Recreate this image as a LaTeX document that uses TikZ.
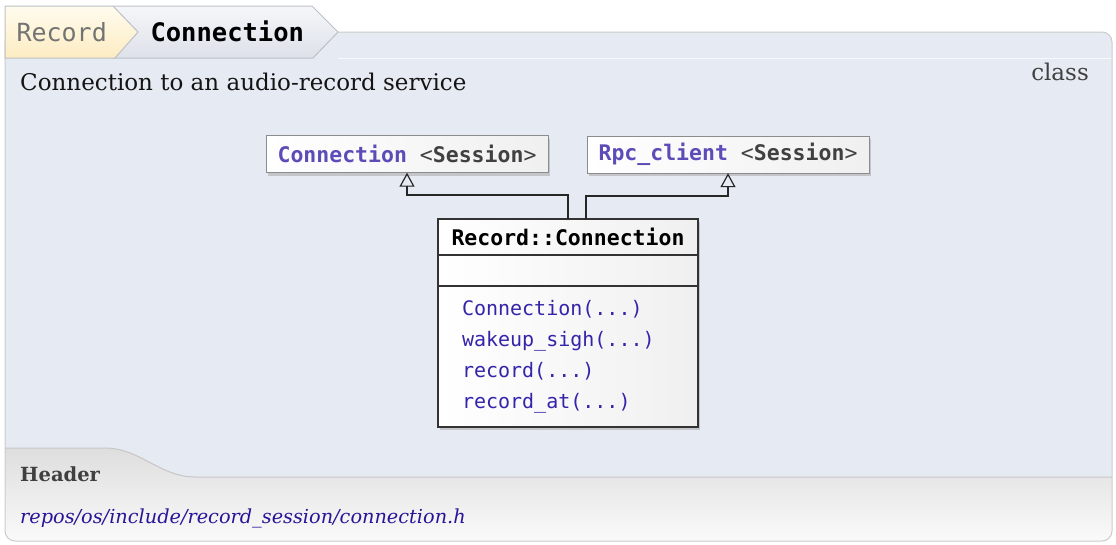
\documentclass[tikz,border=0pt]{standalone}
\usepackage{fontspec}
\setmainfont{DejaVu Serif}
\setmonofont{DejaVu Sans Mono}
\usetikzlibrary{arrows.meta,positioning,shadows}
\definecolor{panelbg}{RGB}{230,234,242}
\definecolor{tabline}{RGB}{190,192,198}
\definecolor{namepurple}{RGB}{92,76,184}
\definecolor{sessgray}{RGB}{64,64,64}
\definecolor{methblue}{RGB}{52,36,170}
\definecolor{pathblue}{RGB}{40,20,150}
\begin{document}
\begin{tikzpicture}[x=1pt, y=-1pt,
    base/.style={draw=black!45, left color=white, right color=black!6,
                 minimum width=282pt, minimum height=37pt, inner sep=0pt,
                 drop shadow={shadow xshift=2pt, shadow yshift=-3pt, fill=black!40, opacity=.45},
                 font=\fontsize{21.5}{26}\selectfont\ttfamily},
    clsbox/.style={draw=black!80, left color=white, right color=black!6,
                   minimum width=260pt, inner sep=0pt, outer sep=0pt, line width=1.1pt,
                   drop shadow={shadow xshift=2pt, shadow yshift=-3pt, fill=black!40, opacity=.45}},
    inh/.style={draw=black!85, line width=1.2pt,
                -{Triangle[open, width=15pt, length=14pt, line width=1.2pt]}}]
  % --- Cerceve ve sekmeler ---
  \useasboundingbox (0,0) rectangle (1116,544);
  \fill[panelbg, rounded corners=10pt] (5,32) rectangle (1112,541);
  \begin{scope}
    \clip[rounded corners=10pt] (5,32) rectangle (1112,541);
    \path[top color=black!13, bottom color=black!2]
      (5,448) -- (105,448) .. controls (140,448) and (160,477) .. (195,477)
      -- (1112,477) -- (1112,541) -- (5,541) -- cycle;
    \draw[black!22, line width=1pt] (5,448) -- (105,448)
      .. controls (140,448) and (160,477) .. (195,477) -- (1112,477);
  \end{scope}
  \draw[black!20, line width=1pt, rounded corners=10pt] (5,32) rectangle (1112,541);
  \draw[white!70!panelbg, line width=1pt] (338,58) -- (1111,58);
  \draw[tabline, line width=1pt, top color=white!60!panelbg, bottom color=black!4!panelbg]
    (113,6) -- (312,6) -- (338,32) -- (313,58) -- (113,58) -- cycle;
  \draw[tabline, line width=1pt, top color={rgb,255:red,255;green,251;blue,238},
        bottom color={rgb,255:red,252;green,236;blue,194}]
    (5,6) -- (113,6) -- (138,32) -- (115,58) -- (5,58) -- cycle;
  \node[anchor=west, black!55, font=\fontsize{25}{30}\selectfont\ttfamily] (tabrec) at (13,32) {Record};
  \node[anchor=west, font=\fontsize{25.5}{30}\selectfont\ttfamily\bfseries] (tabcon) at (147,31) {Connection};

  % --- Aciklama ---
  \node[anchor=base west, inner sep=0pt, black!92, font=\fontsize{23}{28}\selectfont] (desc) at (20,90)
    {Connection to an audio-record service};
  \node[anchor=base east, inner sep=0pt, black!75, font=\fontsize{23}{28}\selectfont] (kind) at (1089,80) {class};

  % --- Taban siniflar ---
  \node[base] (conn) at (407,154)
    {\textcolor{namepurple}{\bfseries Connection} \textcolor{sessgray}{<\textbf{Session}>}};
  \node[base] (rpc) at (728,154.5)
    {\textcolor{namepurple}{\bfseries Rpc\_client} \textcolor{sessgray}{<\textbf{Session}>}};

  % --- Record::Connection ---
  \node[clsbox, minimum height=36pt, font=\fontsize{21.5}{26}\selectfont\ttfamily\bfseries] (cls) at (568,237)
    {Record::Connection};
  \node[clsbox, minimum height=31pt, below=0pt of cls] (clsattr) {};
  \node[clsbox, minimum height=141pt, below=0pt of clsattr, text width=212pt, inner xsep=24pt,
        align=left, text=methblue, font=\fontsize{20}{31}\selectfont\ttfamily] (clsops)
    {Connection(...)\\wakeup\_sigh(...)\\record(...)\\record\_at(...)};

  \draw[inh] (cls.north) -- ++(0,-24) -| (conn.south);
  \draw[inh] ([xshift=18pt]cls.north) -- ++(0,-23) -| (rpc.south);

  % --- Dosya ---
  \node[anchor=base west, inner sep=0pt, black!75, font=\fontsize{19.5}{24}\selectfont\bfseries] (hdr) at (20,481) {Header};
  \node[anchor=base west, inner sep=0pt, pathblue, font=\fontsize{19.3}{24}\selectfont\itshape] (file) at (20,523)
    {repos/os/include/record\_session/connection.h};
\end{tikzpicture}
\end{document}
